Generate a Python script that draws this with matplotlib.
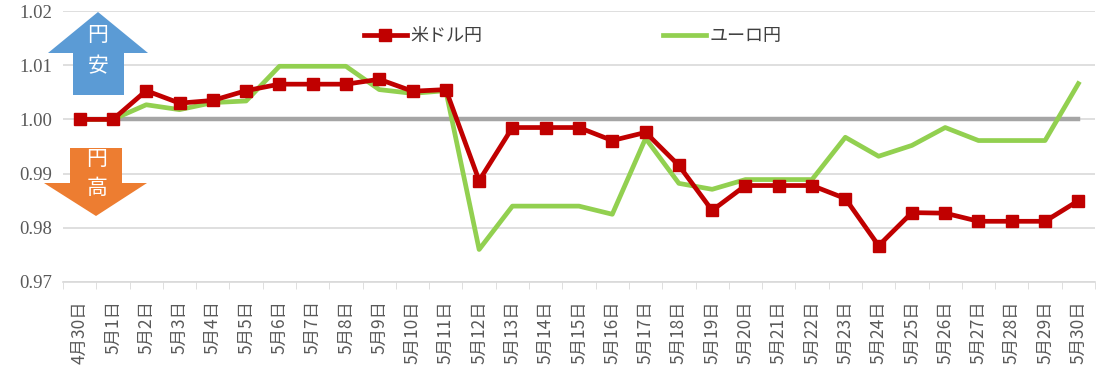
import numpy as np
import matplotlib.pyplot as plt
from matplotlib.patches import Polygon

plt.rcParams['font.family'] = ['Noto Sans CJK JP', 'DejaVu Sans']

''' Data '''
dates = ["4月30日"] + ["5月%d日" % d for d in range(1, 31)]
usd_jpy = [1.000, 1.000, 1.0053, 1.0030, 1.0035, 1.0053, 1.0065, 1.0065, 1.0065, 1.0074,
           1.0052, 1.0055, 0.9887, 0.9985, 0.9985, 0.9985, 0.9961, 0.9976, 0.9915, 0.9832,
           0.9878, 0.9878, 0.9878, 0.9854, 0.9767, 0.9828, 0.9827, 0.9812, 0.9812, 0.9812,
           0.9850]
eur_jpy = [1.000, 1.000, 1.0027, 1.0018, 1.0031, 1.0034, 1.0098, 1.0098, 1.0098, 1.0055,
           1.0048, 1.0053, 0.9760, 0.9840, 0.9840, 0.9840, 0.9825, 0.9965, 0.9882, 0.9871,
           0.9889, 0.9889, 0.9889, 0.9967, 0.9932, 0.9952, 0.9985, 0.9961, 0.9961, 0.9961,
           1.0066]
base = [1.0] * len(dates)
yticks = [0.97, 0.98, 0.99, 1.00, 1.01, 1.02]

W, H = 1101, 372
fig = plt.figure(figsize=(W / 100, H / 100), dpi=100)
ax = fig.add_axes([63 / W, 1 - 282 / H, (1095 - 63) / W, (282 - 11) / H])

x = np.arange(len(dates))
ax.plot(x, base, color='#a5a5a5', lw=3.2, zorder=2)
ax.plot(x, usd_jpy, color='#c00000', lw=3.4, marker='s', ms=9, label='米ドル円', zorder=4)
ax.plot(x, eur_jpy, color='#92d050', lw=3.4, label='ユーロ円', zorder=3)

''' Axes styling '''
ax.set_xlim(-0.5, len(dates) - 0.5)
ax.set_ylim(0.97, 1.02)
ax.set_yticks(yticks)
ax.set_yticklabels(["%.2f" % v for v in yticks], family='Liberation Serif', fontsize=13.5, color='#595959')
ax.yaxis.grid(True, color='#d9d9d9', lw=1.2)
ax.set_axisbelow(True)
ax.tick_params(axis='y', length=0, pad=8)

ax.set_xticks(x)
ax.set_xticklabels(dates, rotation=90, fontsize=12.5, color='#595959')
ax.set_xticks(np.arange(-0.5, len(dates)), minor=True)
ax.tick_params(axis='x', which='major', length=0, pad=13)
ax.tick_params(axis='x', which='minor', length=5, color='#d9d9d9')

for s in ['top', 'right', 'left']:
    ax.spines[s].set_visible(False)
ax.spines['bottom'].set_color('#d9d9d9')
ax.spines['bottom'].set_linewidth(1.2)

leg = ax.legend(loc='upper center', bbox_to_anchor=(0.494, 1.0), ncol=2, frameon=False,
                fontsize=13, columnspacing=10, handlelength=2.4, handletextpad=0.2)
for t in leg.get_texts():
    t.set_color('#404040')

''' Arrows (pixel coords -> figure fraction) '''
def fpts(pts):
    return [(px / W, 1 - py / H) for px, py in pts]

up = [(73, 95), (73, 53), (48, 53), (98, 12), (148, 53), (124, 53), (124, 95)]
down = [(70, 148), (122, 148), (122, 183), (147, 183), (96, 216), (44, 183), (70, 183)]
fig.patches.append(Polygon(fpts(up), closed=True, transform=fig.transFigure, facecolor='#5b9bd5', edgecolor='none'))
fig.patches.append(Polygon(fpts(down), closed=True, transform=fig.transFigure, facecolor='#ed7d31', edgecolor='none'))
fig.text(98 / W, 1 - 35 / H, "円", color='white', fontsize=15, ha='center', va='center')
fig.text(98 / W, 1 - 66 / H, "安", color='white', fontsize=15, ha='center', va='center')
fig.text(97 / W, 1 - 159 / H, "円", color='white', fontsize=15, ha='center', va='center')
fig.text(97 / W, 1 - 188 / H, "高", color='white', fontsize=15, ha='center', va='center')

fig.savefig("out.png", dpi=100)
